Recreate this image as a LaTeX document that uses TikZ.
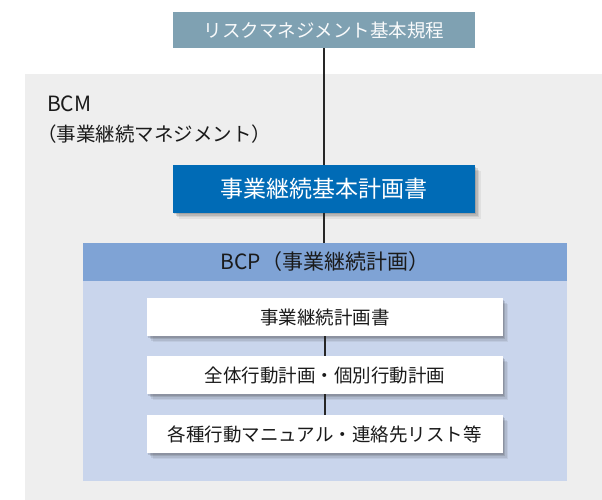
\documentclass[tikz,border=0pt]{standalone}
\usepackage{fontspec}
\setmainfont{Noto Sans CJK JP}
\usetikzlibrary{shadows}
\definecolor{topc}{HTML}{7FA1B2}
\definecolor{bgc}{HTML}{EEEEEE}
\definecolor{bluec}{HTML}{006BB6}
\definecolor{headc}{HTML}{7FA3D5}
\definecolor{bodyc}{HTML}{C9D5EC}
\definecolor{txt}{HTML}{1A1A1A}
\begin{document}
\begin{tikzpicture}[x=1pt,y=-1pt,
  softshadow/.style={
    drop shadow={shadow xshift=1pt,shadow yshift=-1.5pt,opacity=.16,fill=black!80},
    drop shadow={shadow xshift=2.5pt,shadow yshift=-3pt,opacity=.14,fill=black!80},
    drop shadow={shadow xshift=4pt,shadow yshift=-4.5pt,opacity=.10,fill=black!80},
    drop shadow={shadow xshift=5.5pt,shadow yshift=-6pt,opacity=.07,fill=black!80}},
  box/.style={rectangle, inner sep=0pt, anchor=center},
  whitebox/.style={box, fill=white, softshadow, minimum width=355.5pt, minimum height=38pt,
    text=txt, font=\fontsize{18.5}{18.5}\selectfont},
  conn/.style={line width=2pt, draw=black!85}]
\useasboundingbox (0,0) rectangle (602,500);
% BCM background
\node[box, fill=bgc, minimum width=577pt, minimum height=426pt] (bcm) at (313.5,287) {};
\node[anchor=west, text=txt, inner sep=0pt, font=\fontsize{21}{21}\selectfont] (bcmlabel) at (47,104) {BCM};
\node[anchor=west, text=txt, inner sep=0pt, font=\fontsize{19.5}{19.5}\selectfont] (bcmsub) at (37,134) {（事業継続マネジメント）};
% top box
\node[box, fill=topc, minimum width=302pt, minimum height=36pt, text=white!95!topc,
  font=\fontsize{18.5}{18.5}\selectfont] (risk) at (324,30) {リスクマネジメント基本規程};
% blue box
\node[box, fill=bluec, softshadow, minimum width=302pt, minimum height=47.5pt, text=white,
  font=\fontsize{23}{23}\selectfont] (plan) at (324,188.75) {事業継続基本計画書};
% BCP container
\node[box, fill=bodyc, minimum width=484pt, minimum height=238pt] (bcpbody) at (325,362) {};
\node[box, fill=headc, minimum width=484pt, minimum height=38pt, text=txt,
  font=\fontsize{21}{21}\selectfont] (bcphead) at (325,262) {BCP（事業継続計画）};
% inner boxes
\node[whitebox] (b1) at (324.75,317) {事業継続計画書};
\node[whitebox] (b2) at (324.75,375) {全体行動計画・個別行動計画};
\node[whitebox] (b3) at (324.75,434) {各種行動マニュアル・連絡先リスト等};
% connectors
\draw[conn] (risk.south) -- (plan.north);
\draw[conn] (plan.south) -- (plan.south |- bcphead.north);
\draw[conn] (b1.south) -- (b2.north);
\draw[conn] (b2.south) -- (b3.north);
\end{tikzpicture}
\end{document}
